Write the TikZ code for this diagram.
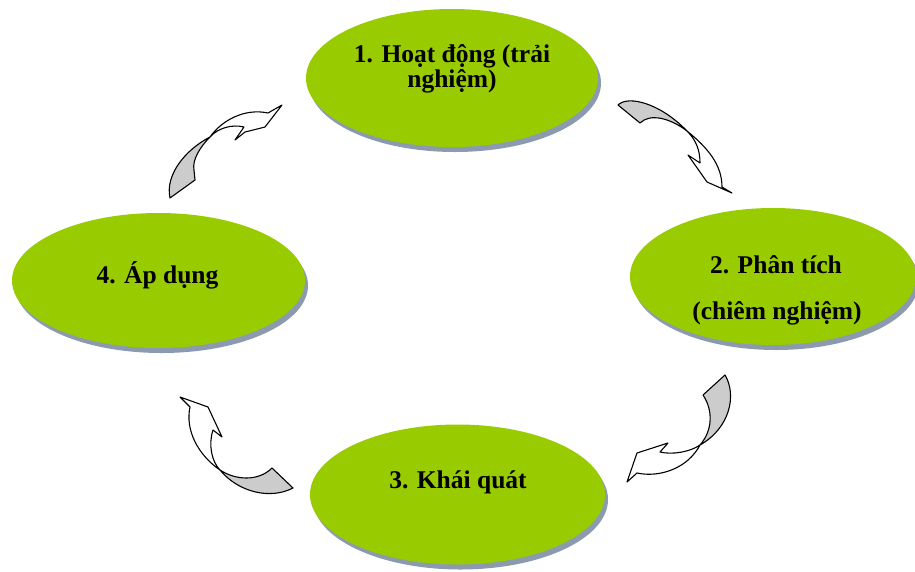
\documentclass[tikz,border=0pt]{standalone}
\usepackage{fontspec}
\setmainfont{Liberation Serif}
\usetikzlibrary{shapes.geometric,shadows}
\definecolor{limegreen}{RGB}{153,204,0}
\definecolor{shadowgray}{RGB}{140,154,176}
\definecolor{backface}{RGB}{204,204,204}
\begin{document}
\begin{tikzpicture}[x=1pt,y=-1pt,
  ell/.style={ellipse, fill=limegreen, draw=none, inner sep=0pt,
    drop shadow={shadow xshift=3pt, shadow yshift=-5pt, fill=shadowgray, opacity=1}},
  lbl/.style={anchor=base, font=\fontsize{25.5}{26}\selectfont\bfseries, inner sep=0pt},
  band/.style={draw=black, line width=1.1pt, line join=round},
  back/.style={band, fill=backface},
  front/.style={band, fill=white}]
\useasboundingbox (0,0) rectangle (915,571);

% ellipses
\node[ell, minimum width=292pt, minimum height=138pt] (e1) at (452,78) {};
\node[ell, minimum width=286pt, minimum height=137pt] (e2) at (773,276.5) {};
\node[ell, minimum width=295pt, minimum height=140pt] (e3) at (457.5,494.5) {};
\node[ell, minimum width=293pt, minimum height=135pt] (e4) at (158.5,280.5) {};

% labels
\node[lbl] (t1a) at (452,62) {1. Hoạt động (trải};
\node[lbl] (t1b) at (452,87) {nghiệm)};
\node[lbl] (t2a) at (776,273) {2. Phân tích};
\node[lbl] (t2b) at (777,319) {(chiêm nghiệm)};
\node[lbl] (t3) at (458,488) {3. Khái quát};
\node[lbl] (t4) at (157.5,283) {4. Áp dụng};

% arrow 1 (top right)
\draw[back] (618,105) .. controls (628,95) and (660,103) .. (687,131)
  .. controls (670,118) and (650,113) .. (640,123) -- cycle;
\draw[front] (687,131) .. controls (708,148) and (722,165) .. (722,187)
  -- (732,193) -- (707,182) -- (688,155) -- (700,163)
  .. controls (700,150) and (696,140) .. (687,131) -- cycle;

% arrow 2 (bottom right)
\draw[back] (703,395) -- (725,375) .. controls (737,395) and (730,428) .. (700,445)
  .. controls (713,430) and (713,410) .. (703,395) -- cycle;
\draw[front] (700,445) .. controls (690,452) and (672,455) .. (660,452)
  -- (668,443) -- (637,453) -- (627,482) -- (637,473)
  .. controls (660,478) and (688,468) .. (700,445) -- cycle;

% arrow 3 (bottom left)
\draw[back] (272,468) -- (293,488) .. controls (270,500) and (238,492) .. (220,470)
  .. controls (235,480) and (258,482) .. (272,468) -- cycle;
\draw[front] (220,470) .. controls (198,455) and (185,430) .. (190,407)
  -- (180,397) -- (208,407) -- (222,437) -- (213,430)
  .. controls (208,445) and (212,462) .. (220,470) -- cycle;

% arrow 4 (top left)
\draw[back] (170,198) .. controls (165,175) and (185,150) .. (210,137)
  .. controls (200,147) and (192,160) .. (194,170) -- (195,180) -- cycle;
\draw[front] (210,137) .. controls (222,120) and (245,108) .. (268,113)
  -- (282,105) -- (265,127) -- (245,132) -- (235,140) -- (244,127)
  .. controls (232,124) and (218,128) .. (210,137) -- cycle;
\end{tikzpicture}
\end{document}
